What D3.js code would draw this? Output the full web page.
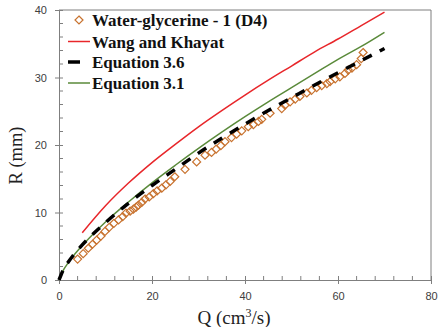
<!DOCTYPE html>
<html>
<head>
<meta charset="utf-8">
<script src="https://cdn.jsdelivr.net/npm/d3@7"></script>
<style>
  html, body { margin: 0; padding: 0; background: #fff; }
  svg { display: block; }
</style>
</head>
<body>
<svg id="chart" width="439" height="327"></svg>
<script>
// Measured jet radius for the water-glycerine mixture (D4)
const dataQ = [4.0,5.2,6.3,7.2,8.1,9.0,9.9,10.8,11.8,12.8,13.7,14.4,15.3,16.0,16.6,17.1,17.8,18.5,19.4,20.3,21.1,22.1,23.0,23.9,24.9,27.1,29.6,31.4,32.8,33.8,34.8,35.7,37.1,38.2,39.3,40.7,41.8,42.9,43.6,45.4,47.9,48.6,49.7,50.8,51.8,53.3,54.3,55.4,56.5,57.6,58.3,59.4,60.4,61.5,62.2,63.0,64.0,65.0,65.4];
const dataR = [3.1,3.9,4.7,5.3,5.9,6.5,7.2,7.8,8.4,8.9,9.4,9.9,10.2,10.5,10.8,11.1,11.5,12.0,12.3,12.8,13.2,13.6,14.1,14.6,15.3,16.4,17.5,18.5,18.9,19.4,19.9,20.5,21.1,21.6,22.1,22.7,23.0,23.5,23.8,24.7,25.4,25.9,26.4,26.8,27.2,27.7,28.1,28.5,28.8,29.1,29.4,29.8,30.1,30.6,31.1,31.4,31.9,32.8,33.7];

// Model curves
const wangQ = [5,10,15,20,25,30,35,40,45,50,55,60,65,70];
const wangR = [7.0,11.0,14.4,17.4,20.1,22.7,25.1,27.4,29.6,31.7,33.8,35.7,37.7,39.7];

const eq36Q = [0,1,2,3,5,10,15,20,25,30,35,40,45,50,55,60,65,70];
const eq36R = [0,1.63,2.67,3.59,5.2,8.5,11.4,14.0,16.4,18.8,21.0,23.1,25.1,27.0,28.9,30.7,32.5,34.3];

const eq31Q = [0,1,2,3,5,10,15,20,25,30,35,40,45,50,55,60,65,70];
const eq31R = [0,1.53,2.57,3.49,5.1,8.6,11.6,14.4,17.0,19.5,21.9,24.2,26.4,28.5,30.6,32.7,34.6,36.7];

const xTicks = [0,20,40,60,80];
const yTicks = [0,10,20,30,40];

const legendLabels = ["Water-glycerine - 1 (D4)", "Wang and Khayat", "Equation 3.6", "Equation 3.1"];

const colors = { data: "#c8722e", wang: "#e8262a", eq36: "#000000", eq31: "#5a8a3a", axis: "#7f7f7f", text: "#404040" };

const svg = d3.select("#chart");
const margin = { left: 59, right: 8, top: 10, bottom: 47 };
const W = 439, H = 327;

const x = d3.scaleLinear().domain([0, 80]).range([margin.left, W - margin.right]);
const y = d3.scaleLinear().domain([0, 40]).range([H - margin.bottom, margin.top]);

const serif = "'Liberation Serif', 'Times New Roman', serif";
const sans = "'Liberation Sans', Arial, sans-serif";

// Frame (top and right borders)
svg.append("path")
  .attr("d", `M${x(0)},${y(40)}H${x(80)}V${y(0)}`)
  .attr("fill", "none").attr("stroke", colors.axis).attr("stroke-width", 1);

// Minor ticks (inside)
const gMinor = svg.append("g").attr("stroke", colors.axis).attr("stroke-width", 1);
d3.range(0, 81, 4).filter(v => v % 20 !== 0).forEach(v => {
  gMinor.append("line").attr("x1", x(v)).attr("x2", x(v)).attr("y1", y(0)).attr("y2", y(0) - 4);
});
d3.range(0, 41, 2).filter(v => v % 10 !== 0).forEach(v => {
  gMinor.append("line").attr("x1", x(0)).attr("x2", x(0) + 4).attr("y1", y(v)).attr("y2", y(v));
});

// X axis
const xAxis = svg.append("g").attr("transform", `translate(0,${y(0)})`)
  .call(d3.axisBottom(x).tickValues(xTicks).tickSize(4).tickSizeOuter(0));
xAxis.select(".domain").attr("stroke", colors.axis);
xAxis.selectAll(".tick line").attr("stroke", colors.axis).attr("y1", -4).attr("y2", 4);
xAxis.selectAll(".tick text").attr("fill", colors.text).attr("font-family", sans).attr("font-size", 11)
  .attr("dy", null).attr("y", 19.5);

// Y axis
const yAxis = svg.append("g").attr("transform", `translate(${x(0)},0)`)
  .call(d3.axisLeft(y).tickValues(yTicks).tickSize(4).tickSizeOuter(0));
yAxis.select(".domain").attr("stroke", colors.axis);
yAxis.selectAll(".tick line").attr("stroke", colors.axis).attr("x1", 4).attr("x2", -4);
yAxis.selectAll(".tick text").attr("fill", colors.text).attr("font-family", sans).attr("font-size", 11).attr("x", -12);

// Axis titles
svg.append("text")
  .attr("x", 234).attr("y", 324)
  .attr("text-anchor", "middle").attr("font-family", serif).attr("font-size", 19).attr("fill", "#222")
  .html('Q (cm<tspan dy="-7" font-size="12">3</tspan><tspan dy="7">/s)</tspan>');

svg.append("text")
  .attr("transform", `translate(22,155.5) rotate(-90)`)
  .attr("text-anchor", "middle").attr("font-family", serif).attr("font-size", 18.5).attr("fill", "#222")
  .text("R (mm)");

// Data markers (diamonds)
const diamond = s => `M0,${-s}L${s},0L0,${s}L${-s},0Z`;
svg.append("g").selectAll("path").data(d3.zip(dataQ, dataR)).join("path")
  .attr("transform", d => `translate(${x(d[0])},${y(d[1])})`)
  .attr("d", diamond(4))
  .attr("fill", "none").attr("stroke", colors.data).attr("stroke-width", 1.2);

const line = d3.line().x(d => x(d[0])).y(d => y(d[1])).curve(d3.curveMonotoneX);

svg.append("path").datum(d3.zip(wangQ, wangR)).attr("d", line)
  .attr("fill", "none").attr("stroke", colors.wang).attr("stroke-width", 1.5);
svg.append("path").datum(d3.zip(eq31Q, eq31R)).attr("d", line)
  .attr("fill", "none").attr("stroke", colors.eq31).attr("stroke-width", 1.5);
svg.append("path").datum(d3.zip(eq36Q, eq36R)).attr("d", line)
  .attr("fill", "none").attr("stroke", colors.eq36).attr("stroke-width", 3.5)
  .attr("stroke-dasharray", "10,9");

// Legend
const legend = svg.append("g");
const rowY = [20, 41.5, 62, 83];
legendLabels.forEach((lab, i) => {
  const yy = rowY[i];
  if (i === 0) {
    legend.append("path").attr("transform", `translate(79,${yy})`).attr("d", diamond(4))
      .attr("fill", "none").attr("stroke", colors.data).attr("stroke-width", 1.2);
  } else if (i === 1) {
    legend.append("line").attr("x1", 68).attr("x2", 90).attr("y1", yy).attr("y2", yy)
      .attr("stroke", colors.wang).attr("stroke-width", 1.5);
  } else if (i === 2) {
    legend.append("line").attr("x1", 68).attr("x2", 80).attr("y1", yy).attr("y2", yy)
      .attr("stroke", colors.eq36).attr("stroke-width", 3.5);
  } else {
    legend.append("line").attr("x1", 68).attr("x2", 90).attr("y1", yy).attr("y2", yy)
      .attr("stroke", colors.eq31).attr("stroke-width", 1.5);
  }
  legend.append("text").attr("x", 92).attr("y", yy + 6)
    .attr("font-family", serif).attr("font-weight", "bold").attr("font-size", 17).attr("fill", "#111")
    .text(lab);
});
</script>
</body>
</html>
